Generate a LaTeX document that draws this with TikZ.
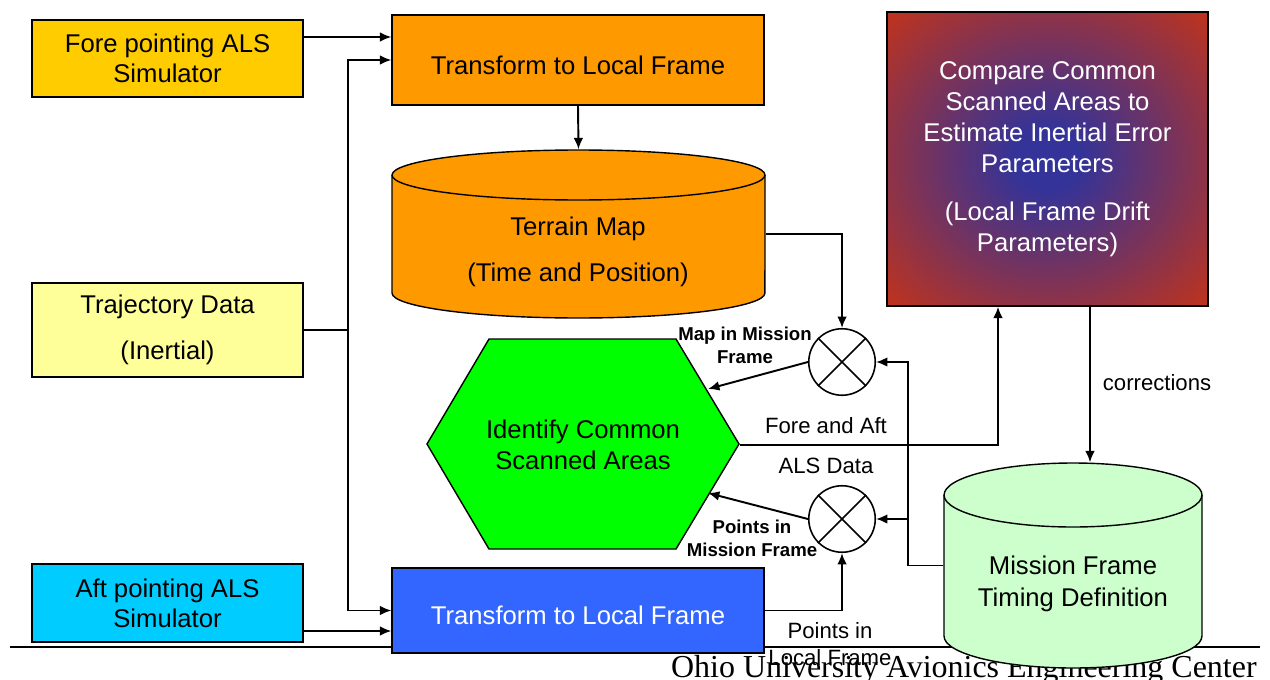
\documentclass[tikz,border=0pt]{standalone}
\usepackage{fontspec}
\setmainfont{Liberation Sans}
\newfontfamily\footfont{Liberation Serif}
\usepackage{xcolor}
\usepackage{tikz}
\usetikzlibrary{calc, shapes.geometric, positioning, arrows.meta}

\definecolor{foreC}{HTML}{FFCC00}
\definecolor{trajC}{HTML}{FFFF99}
\definecolor{aftC}{HTML}{00CCFF}
\definecolor{orangeC}{HTML}{FF9900}
\definecolor{blueC}{HTML}{3366FF}
\definecolor{greenC}{HTML}{00FF00}
\definecolor{mintC}{HTML}{CCFFCC}
\definecolor{cmpRed}{HTML}{CC3311}
\definecolor{cmpBlue}{HTML}{333399}
\pgfdeclareradialshading{comparegrad}{\pgfpoint{0bp}{0bp}}{color(0bp)=(cmpBlue); color(5bp)=(cmpBlue); color(38bp)=(cmpRed); color(50bp)=(cmpRed)}

\begin{document}
\begin{tikzpicture}[>={Latex[length=6.5pt, width=5.5pt]}, x=0.02cm, y=-0.02cm,
    box/.style={draw, line width=0.8pt, align=center, inner sep=0pt, font=\fontsize{14.6}{17}\selectfont},
    lowtext/.style={text height=16.2pt, text depth=0pt},
    link/.style={line width=1.1pt},
    mixer/.style={circle, draw, line width=0.9pt, fill=white, minimum size=1.33cm, inner sep=0pt},
    tag/.style={align=center, font=\fontsize{10.6}{13}\selectfont\bfseries},
    note/.style={align=center, font=\fontsize{12.6}{15.3}\selectfont}]
    \useasboundingbox (0,0) rectangle (1270,679);

    % 1. Duong ke chan trang
    \draw[line width=1.1pt] (10,647) -- (1260,647);
    \node[anchor=base east, inner sep=0pt, font=\footfont\fontsize{18.2}{20}\selectfont] (footer) at (1257,677) {Ohio University Avionics Engineering Center};

    % 2. Cac khoi nguon
    \node[box, fill=foreC, minimum width=5.42cm, minimum height=1.54cm] (fore) at (167.5,58.5) {Fore pointing ALS\\Simulator};
    \node[box, fill=trajC, minimum width=5.42cm, minimum height=1.88cm] (traj) at (167.5,330) {Trajectory Data\\[9pt](Inertial)};
    \node[box, fill=aftC, minimum width=5.42cm, minimum height=1.56cm] (aft) at (167.5,603) {Aft pointing ALS\\Simulator};
    \node[box, lowtext, fill=orangeC, minimum width=7.44cm, minimum height=1.8cm] (top) at (578,60) {Transform to Local Frame};
    \node[box, lowtext, fill=blueC, text=white, minimum width=7.44cm, minimum height=1.7cm] (bottom) at (578,610.5) {Transform to Local Frame};
    \node[box, shading=comparegrad, text=white, font=\fontsize{14.6}{17.6}\selectfont, minimum width=6.42cm, minimum height=5.88cm] (compare) at (1047.5,159)
        {Compare Common\\Scanned Areas to\\Estimate Inertial Error\\Parameters\\[9.6pt](Local Frame Drift\\Parameters)};

    % 3. Hai hinh tru
    \draw[fill=orangeC, line width=0.8pt] (392,175) -- (392,293) arc[start angle=180, end angle=360, x radius=3.73cm, y radius=0.5cm]
        -- (765,175) arc[start angle=0, end angle=180, x radius=3.73cm, y radius=0.5cm] -- cycle;
    \draw[line width=0.8pt] (392,175) arc[start angle=180, end angle=360, x radius=3.73cm, y radius=0.5cm];
    \node[box, draw=none, minimum width=7.46cm, minimum height=3.36cm] (terrain) at (578.5,234) {};
    \node[box, draw=none] (terrainTxt) at (578,252) {Terrain Map\\[9pt](Time and Position)};

    \draw[fill=mintC, line width=0.8pt] (944,495) -- (944,636) arc[start angle=180, end angle=360, x radius=2.58cm, y radius=0.64cm]
        -- (1202,495) arc[start angle=0, end angle=180, x radius=2.58cm, y radius=0.64cm] -- cycle;
    \draw[line width=0.8pt] (944,495) arc[start angle=180, end angle=360, x radius=2.58cm, y radius=0.64cm];
    \node[box, draw=none, minimum width=5.16cm, minimum height=4.1cm] (mission) at (1073,565.5) {};
    \node[box, draw=none, font=\fontsize{14.6}{18}\selectfont] (missionTxt) at (1073,584) {Mission Frame\\Timing Definition};

    % 4. Luc giac
    \draw[fill=greenC, line width=0.8pt] (427,444) -- (489,339) -- (676,339) -- (739,444) -- (676,549) -- (489,549) -- cycle;
    \node[box, draw=none, font=\fontsize{14.6}{18}\selectfont, minimum width=6.24cm, minimum height=4.2cm] (identify) at (583,445) {Identify Common\\Scanned Areas};
    \coordinate (hexUp) at (708,389);
    \coordinate (hexDn) at (708,493);

    % 5. Bo tron
    \node[mixer] (c1) at (842,362) {};
    \node[mixer] (c2) at (842,519) {};
    \foreach \c in {c1,c2} {
        \draw[line width=0.9pt] (\c.45) -- (\c.225) (\c.135) -- (\c.315);
    }

    % 6. Cac mui ten
    \coordinate (foreOut) at ([yshift=0.43cm]fore.east);
    \draw[->, link] (foreOut) -- (foreOut -| top.west);
    \coordinate (bus) at (348,330);
    \draw[link] (traj.east) -- (bus);
    \draw[->, link] (bus) |- (top.west);
    \draw[->, link] (bus) |- (bottom.west);
    \coordinate (aftOut) at ([yshift=-0.56cm]aft.east);
    \draw[->, link] (aftOut) -- (aftOut -| bottom.west);
    \draw[->, link] (top.south) -- (terrain.north);
    \draw[->, link] (terrain.east) -| (c1.north);
    \draw[->, link] (bottom.east) -| (c2.south);
    \draw[->, link] (c1.west) -- (hexUp);
    \draw[->, link] (c2.west) -- (hexDn);
    \draw[->, link] (identify.east) -| ([xshift=-0.99cm]compare.south);
    \coordinate (tap) at ([xshift=-0.7cm]mission.west);
    \draw[->, link] (mission.west) -- (tap) |- (c1.east);
    \draw[->, link] (tap |- c2.east) -- (c2.east);
    \coordinate (corrOut) at ([xshift=0.85cm]compare.south);
    \draw[->, link] (corrOut) -- (corrOut |- mission.north);

    % 7. Nhan
    \node[tag] (mapLbl) at (745,345) {Map in Mission\\Frame};
    \node[tag] (ptsLbl) at (752,538) {Points in\\Mission Frame};
    \node[note] (foreLbl) at (826,426) {Fore and Aft};
    \node[note] (alsLbl) at (826,466) {ALS Data};
    \node[note] (corrLbl) at (1157,383) {corrections};
    \node[note] (localLbl) at (830,644) {Points in\\Local Frame};
\end{tikzpicture}
\end{document}
